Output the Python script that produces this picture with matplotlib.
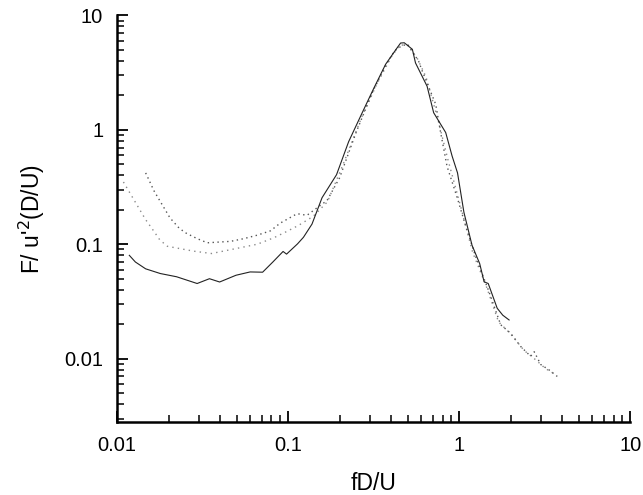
import numpy as np
import matplotlib.pyplot as plt
from matplotlib.ticker import FixedLocator, LogLocator, NullFormatter, FixedFormatter

plt.rcParams['font.family'] = ['Liberation Sans', 'DejaVu Sans']

# ---- data (fD/U, F/u'^2 (D/U)) ----
solid_x = [0.0118, 0.0128, 0.0147, 0.0179, 0.0223, 0.0294, 0.0347, 0.0398, 0.0496,
           0.060, 0.071, 0.0815, 0.0935, 0.098, 0.1135, 0.123, 0.138, 0.158, 0.192,
           0.226, 0.267, 0.316, 0.372, 0.428, 0.455, 0.478, 0.533, 0.556, 0.65, 0.71,
           0.835, 0.91, 0.979, 1.067, 1.19, 1.32, 1.40, 1.48, 1.67, 1.80, 1.96]
solid_y = [0.080, 0.070, 0.061, 0.0555, 0.052, 0.0454, 0.050, 0.0468, 0.0536,
           0.0573, 0.057, 0.070, 0.0865, 0.082, 0.1007, 0.115, 0.150, 0.255, 0.405,
           0.787, 1.34, 2.28, 3.74, 5.05, 5.73, 5.76, 5.05, 3.84, 2.40, 1.41,
           0.946, 0.59, 0.42, 0.19, 0.098, 0.0676, 0.047, 0.0454, 0.0276, 0.024, 0.0218]

dot_a_x = [0.0147, 0.0155, 0.0164, 0.0204, 0.0230, 0.0251, 0.0294, 0.0337, 0.0461,
           0.0552, 0.066, 0.0789, 0.090, 0.113, 0.129, 0.145, 0.169, 0.20, 0.25, 0.31,
           0.37, 0.42, 0.46, 0.50, 0.58, 0.61, 0.73, 0.78, 0.85, 0.98, 1.09, 1.25,
           1.50, 1.75, 2.0, 2.29, 2.62, 2.75, 3.0, 3.35, 3.75]
dot_a_y = [0.42, 0.355, 0.295, 0.170, 0.139, 0.126, 0.112, 0.103, 0.106,
           0.112, 0.120, 0.131, 0.153, 0.185, 0.179, 0.204, 0.241, 0.38, 0.95, 2.1,
           3.6, 4.9, 5.4, 5.6, 3.97, 3.24, 1.67, 0.946, 0.48, 0.249, 0.146, 0.078,
           0.038, 0.0198, 0.0167, 0.0128, 0.0105, 0.0115, 0.0089, 0.0080, 0.0070]

dot_b_x = [0.0109, 0.0147, 0.0166, 0.0178, 0.0197, 0.0281, 0.0357, 0.066, 0.0826,
           0.0969, 0.115, 0.14, 0.17, 0.21, 0.27, 0.33, 0.40, 0.45, 0.50, 0.57,
           0.64, 0.75, 0.86, 1.0, 1.2, 1.45, 1.7, 2.0, 2.4, 2.8, 3.2, 3.7]
dot_b_y = [0.35, 0.164, 0.127, 0.109, 0.096, 0.087, 0.083, 0.100, 0.114,
           0.128, 0.146, 0.175, 0.235, 0.50, 1.30, 2.5, 4.3, 5.5, 5.5, 4.2,
           2.9, 1.25, 0.55, 0.24, 0.085, 0.042, 0.021, 0.0165, 0.0118, 0.0098, 0.0082, 0.0072]

x_ticks = [0.01, 0.1, 1, 10]
x_tick_labels = ["0.01", "0.1", "1", "10"]
y_ticks = [0.01, 0.1, 1, 10]
y_tick_labels = ["0.01", "0.1", "1", "10"]

fig = plt.figure(figsize=(6.43, 4.95), dpi=100)
ax = fig.add_axes([0.182, 0.1475, 0.798, 0.8215])

ax.plot(dot_b_x, dot_b_y, color='#8a8a8a', linestyle=(0, (1, 3)), linewidth=1.0)
ax.plot(dot_a_x, dot_a_y, color='#555555', linestyle=(0, (1, 2.5)), linewidth=1.0)
ax.plot(solid_x, solid_y, color='#222222', linestyle='-', linewidth=0.8)

ax.set_xscale('log')
ax.set_yscale('log')
ax.set_xlim(0.01, 10)
ax.set_ylim(0.0028, 10)

ax.xaxis.set_major_locator(FixedLocator(x_ticks))
ax.xaxis.set_major_formatter(FixedFormatter(x_tick_labels))
ax.yaxis.set_major_locator(FixedLocator(y_ticks))
ax.yaxis.set_major_formatter(FixedFormatter(y_tick_labels))
ax.xaxis.set_minor_locator(LogLocator(base=10, subs=np.arange(2, 10)))
ax.yaxis.set_minor_locator(LogLocator(base=10, subs=np.arange(2, 10)))
ax.xaxis.set_minor_formatter(NullFormatter())
ax.yaxis.set_minor_formatter(NullFormatter())

ax.spines['top'].set_visible(False)
ax.spines['right'].set_visible(False)
ax.spines['left'].set_linewidth(1.8)
ax.spines['bottom'].set_linewidth(1.8)

ax.tick_params(which='major', direction='in', length=8, width=1.3, labelsize=14.5, pad=10)
ax.tick_params(which='minor', direction='in', length=5, width=1.1)
ax.tick_params(top=False, right=False, which='both')

ax.set_xlabel("fD/U", fontsize=16.5, labelpad=12)
ax.set_ylabel("F/ u'$^{2}$(D/U)", fontsize=16.5, labelpad=12)

fig.savefig("out.png", dpi=100)
